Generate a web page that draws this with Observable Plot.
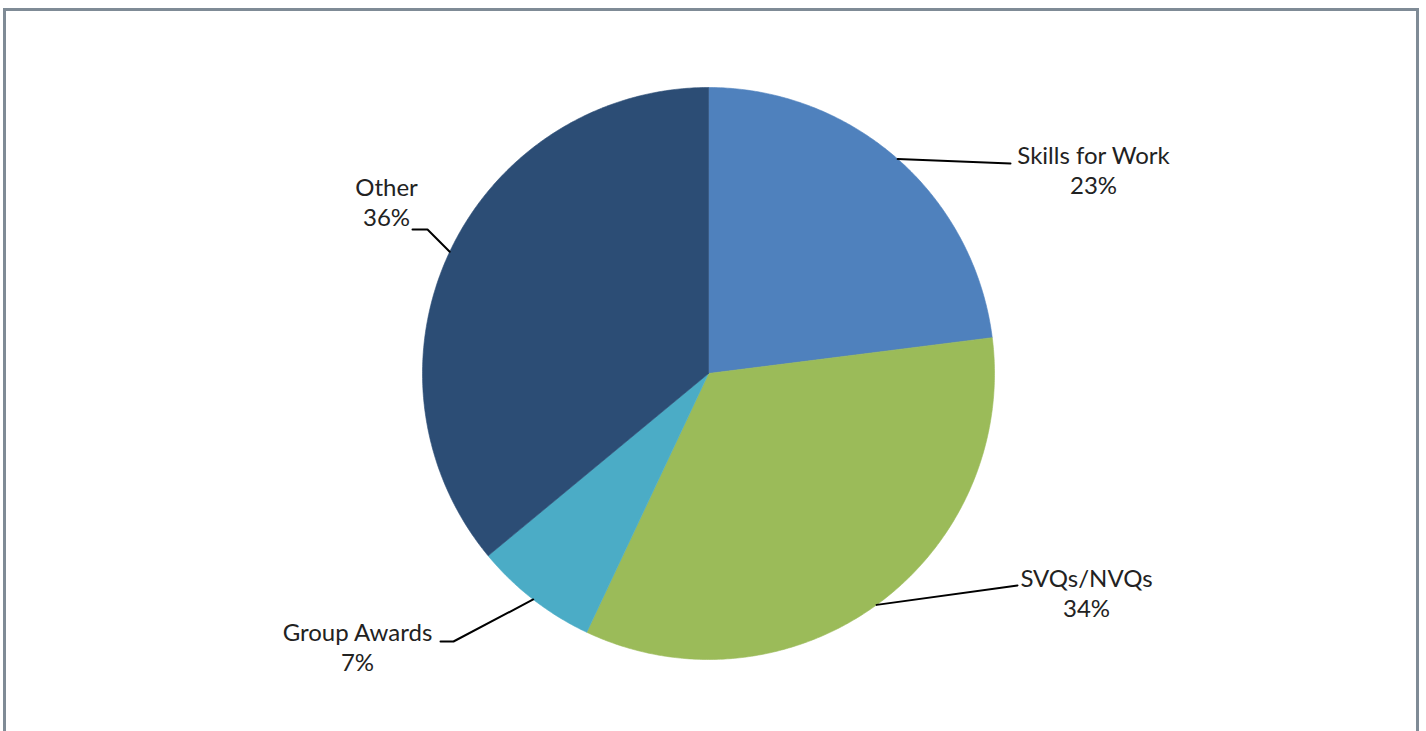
<!DOCTYPE html>
<html>
<head>
<meta charset="utf-8">
<script src="https://cdn.jsdelivr.net/npm/d3@7"></script>
<script src="https://cdn.jsdelivr.net/npm/@observablehq/plot@0.6"></script>
<style>
  html, body { margin: 0; padding: 0; background: #fff; }
  #wrap { position: relative; width: 1426px; height: 731px; overflow: hidden; background: #fff; }
  #frame { position: absolute; left: 3px; top: 8px; width: 1410px; height: 760px;
           border: 3px solid #7f8b96; border-bottom: none; box-sizing: content-box; }
  #chart { position: absolute; left: 0; top: 0; }
</style>
</head>
<body>
<div id="wrap"><div id="frame"></div><div id="chart"></div></div>
<script>
// ---- data ----
const categories = ["Skills for Work", "SVQs/NVQs", "Group Awards", "Other"];
const shares = [23, 34, 7, 36];
const colors = ["#4f81bd", "#9bbb59", "#4bacc6", "#2c4d75"];

// ---- layout (pixels relative to pie centre) ----
const W = 1426, H = 731, CX = 708, CY = 373, R = 286;
// leader line bend/end points and label block centres (offsets from centre, px)
const leaderEnds = [
  [[302, -210]],
  [[309, 212]],
  [[-255, 268], [-268, 268]],
  [[-281, -144], [-296, -144]]
];
const labelPos = [[385, -204], [378, 219], [-351, 273], [-322, -172]];

const pie = d3.pie().sort(null).startAngle(0).endAngle(2 * Math.PI)(shares);

// slice polygons
const slicePts = [];
pie.forEach((a, i) => {
  const name = categories[i];
  slicePts.push({name, x: 0, y: 0});
  const n = Math.max(2, Math.ceil((a.endAngle - a.startAngle) * 120));
  for (let k = 0; k <= n; k++) {
    const t = a.startAngle + (a.endAngle - a.startAngle) * k / n;
    slicePts.push({name, x: R * Math.sin(t), y: -R * Math.cos(t)});
  }
  slicePts.push({name, x: 0, y: 0});
});

// leader lines
const leaderPts = [];
pie.forEach((a, i) => {
  const m = (a.startAngle + a.endAngle) / 2;
  const name = categories[i];
  leaderPts.push({name, x: R * Math.sin(m), y: -R * Math.cos(m)});
  leaderEnds[i].forEach(([x, y]) => leaderPts.push({name, x, y}));
});

const labels = categories.map((c, i) => ({
  text: c + "\n" + shares[i] + "%", x: labelPos[i][0], y: labelPos[i][1]
}));

const chart = Plot.plot({
  width: W, height: H,
  margin: 0,
  x: {domain: [-CX, W - CX], range: [0, W], axis: null},
  y: {domain: [-CY, H - CY], range: [0, H], axis: null},
  color: {domain: categories, range: colors},
  style: {background: "transparent", fontFamily: "Lato, 'Open Sans', sans-serif"},
  marks: [
    Plot.line(slicePts, {x: "x", y: "y", z: "name", fill: "name", stroke: "name", strokeWidth: 0.6, curve: "linear"}),
    Plot.line(leaderPts, {x: "x", y: "y", z: "name", stroke: "#000", strokeWidth: 2, curve: "linear"}),
    Plot.text(labels, {x: "x", y: "y", text: "text", fontSize: 24, lineHeight: 1.25, fill: "#222", textAnchor: "middle"})
  ]
});
document.getElementById("chart").appendChild(chart);
</script>
</body>
</html>
